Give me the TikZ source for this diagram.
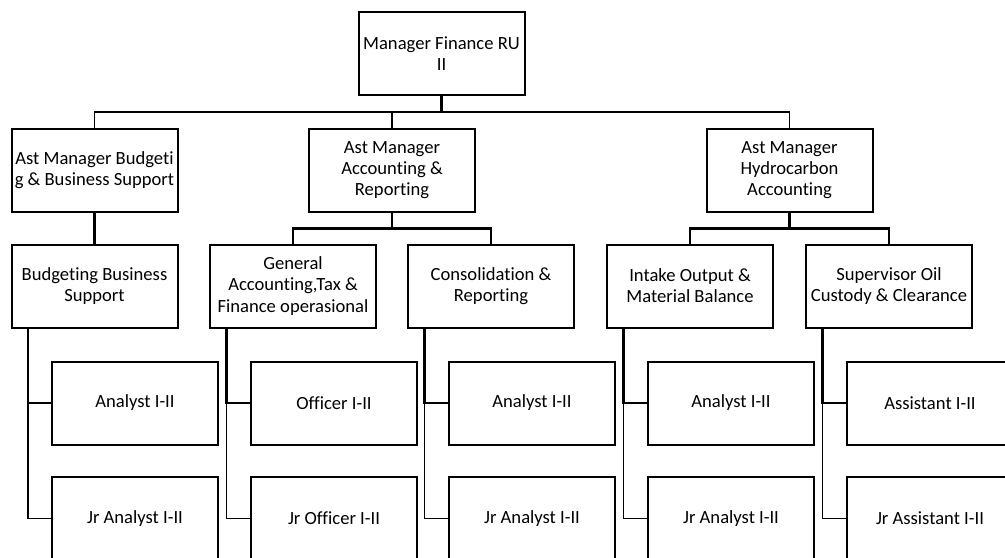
\documentclass[tikz,border=0pt]{standalone}
\usepackage{fontspec}
\setmainfont{Carlito}[RawFeature={-liga;-clig;-calt;-dlig}]
\begin{document}
\begin{tikzpicture}[x=0.5pt,y=-0.5pt,
    box/.style={draw,line width=1pt,minimum width=83pt,minimum height=41.5pt,
      inner sep=1pt,align=center,font=\fontsize{9.3}{10.6}\selectfont},
    link/.style={line width=1.4pt},
    sublink/.style={line width=0.9pt}]
    \clip (0,0) rectangle (1005,557);

    \node[box] (fin) at (441.5,53.5) {Manager Finance RU\\II};

    \node[box] (budg) at (94.5,170) {Ast Manager Budgeti\\g \& Business Support};
    \node[box] (acct) at (392,170) {Ast Manager\\Accounting \&\\Reporting};
    \node[box] (hydro) at (789.5,170) {Ast Manager\\Hydrocarbon\\Accounting};

    \node[box] (bbs) at (94.5,286) {Budgeting Business\\Support};
    \node[box] (gen) at (293,286) {General\\Accounting,Tax \&\\Finance operasional};
    \node[box] (cons) at (491,286) {Consolidation \&\\Reporting};
    \node[box] (intake) at (690,286) {Intake Output \&\\Material Balance};
    \node[box] (oil) at (889,286) {Supervisor Oil\\Custody \& Clearance};

    \node[box] (bbsA) at (135,403) {Analyst I-II};
    \node[box] (genA) at (334,403) {Officer I-II};
    \node[box] (consA) at (532,403) {Analyst I-II};
    \node[box] (intakeA) at (731,403) {Analyst I-II};
    \node[box] (oilA) at (930,403) {Assistant I-II};

    \node[box] (bbsB) at (135,518.5) {Jr Analyst I-II};
    \node[box] (genB) at (334,518.5) {Jr Officer I-II};
    \node[box] (consB) at (532,518.5) {Jr Analyst I-II};
    \node[box] (intakeB) at (731,518.5) {Jr Analyst I-II};
    \node[box] (oilB) at (930,518.5) {Jr Assistant I-II};

    \draw[link] (fin.south) -- ++(0,16) coordinate (bus);
    \draw[sublink] (bus) -| (budg.north);
    \draw[link] (bus) -| (acct.north);
    \draw[sublink] (bus) -| (hydro.north);

    \draw[link] (budg.south) -- (bbs.north);
    \draw[link] (acct.south) -- ++(0,16) coordinate (accbus);
    \draw[link] (accbus) -| (gen.north);
    \draw[link] (accbus) -| (cons.north);
    \draw[link] (hydro.south) -- ++(0,16) coordinate (hydbus);
    \draw[link] (hydbus) -| (intake.north);
    \draw[link] (hydbus) -| (oil.north);

    \foreach \p in {bbs,gen,cons,intake,oil}{
      \draw[sublink] ([xshift=8.75pt]\p.south west) |- (\p B.west);
      \draw[link] ([xshift=8.75pt]\p.south west) |- (\p A.west);
    }
\end{tikzpicture}
\end{document}
